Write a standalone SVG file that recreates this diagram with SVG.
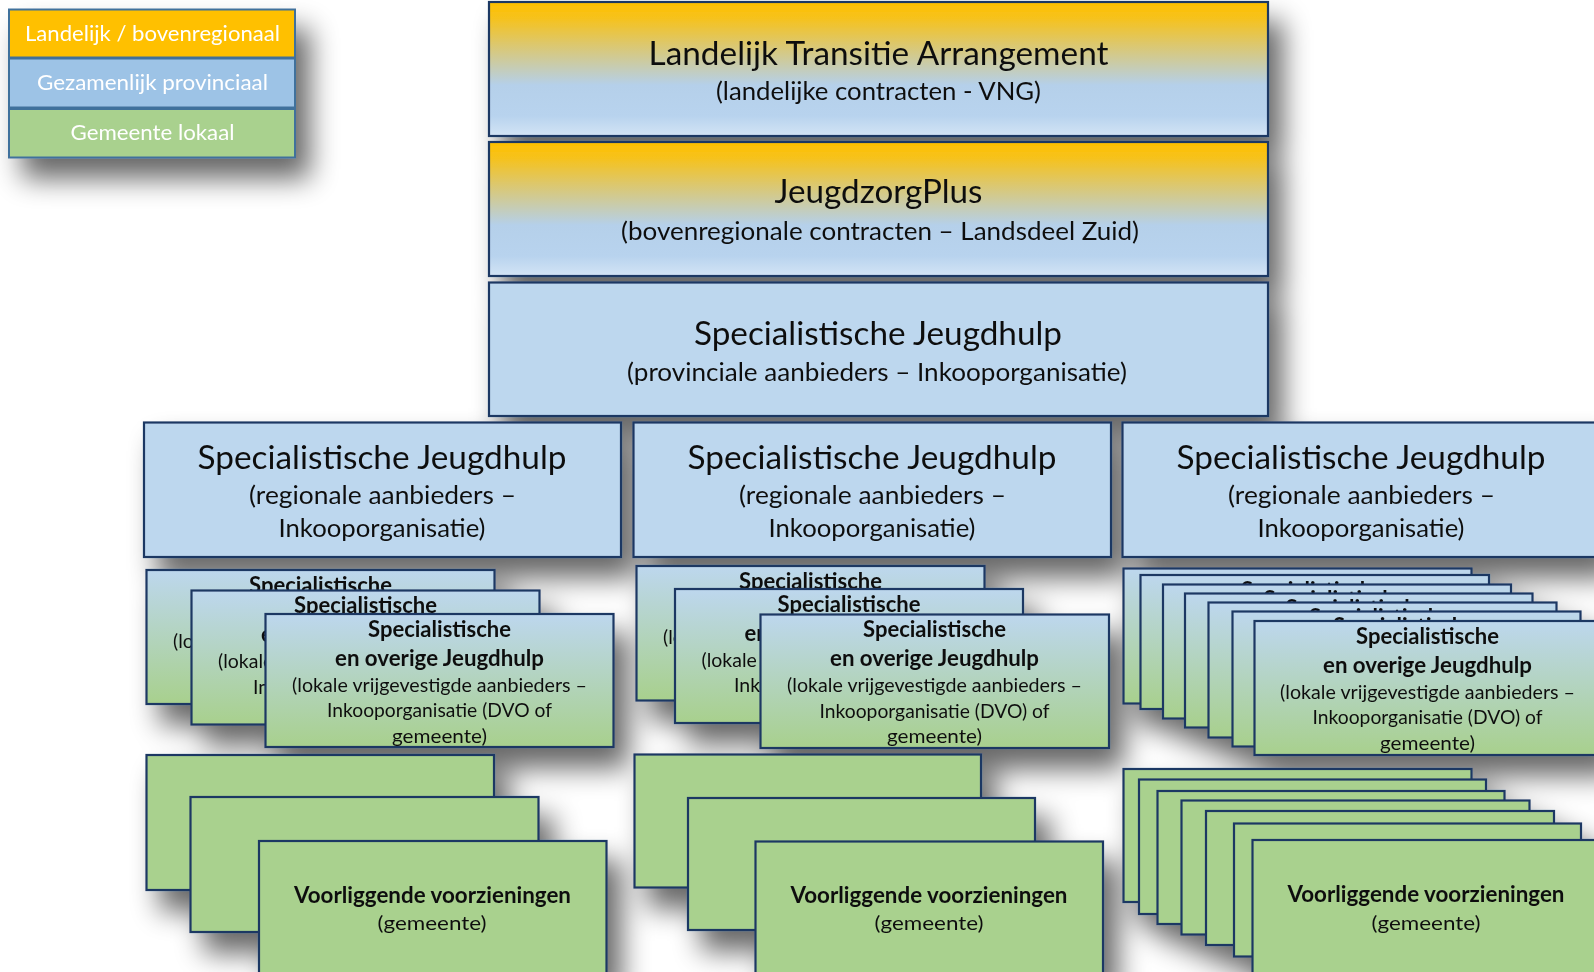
<svg xmlns="http://www.w3.org/2000/svg" width="1594" height="972" viewBox="0 0 1594 972">
<defs>
<filter id="sh" x="-10%" y="-10%" width="130%" height="135%">
<feGaussianBlur in="SourceAlpha" stdDeviation="14"/>
<feOffset dx="14" dy="20" result="o"/>
<feComponentTransfer><feFuncA type="linear" slope="0.6"/></feComponentTransfer>
<feMerge><feMergeNode/><feMergeNode in="SourceGraphic"/></feMerge>
</filter>
<linearGradient id="gTop" x1="0" y1="0" x2="0" y2="1">
<stop offset="0" stop-color="#FFC000"/>
<stop offset="0.12" stop-color="#F6C21C"/>
<stop offset="0.62" stop-color="#B5D0EA"/>
<stop offset="0.85" stop-color="#B8D3EE"/>
<stop offset="1" stop-color="#D3E4F5"/>
</linearGradient>
<linearGradient id="gLoc" x1="0" y1="0" x2="0" y2="1">
<stop offset="0" stop-color="#BDD7EE"/>
<stop offset="1" stop-color="#A8D08D"/>
</linearGradient>
<style>
.lg{stroke:#41719C;stroke-width:2}
.nb{stroke:#1F3864;stroke-width:2.2}
.top{fill:url(#gTop)}
.blue{fill:#BDD7EE}
.loc{fill:url(#gLoc)}
.grn{fill:#A9D18E}
text{font-family:Lato,"Liberation Sans",sans-serif;text-anchor:middle;fill:#111}
.lt{fill:#fff;font-size:22px}
.h1{font-size:33px}
.h2{font-size:25.5px}
.b{font-size:22px;font-weight:bold}
.r{font-size:19.5px}
.s{text-anchor:start}
</style>
</defs>
<g filter="url(#sh)">
<g id="legend">
<rect class="lg" x="9" y="9.5" width="286" height="48" fill="#FFC000"/>
<rect class="lg" x="9" y="58.5" width="286" height="49" fill="#9DC3E6"/>
<rect class="lg" x="9" y="109" width="286" height="48.5" fill="#A9D18E"/>
<text class="lt" x="152.5" y="41" textLength="255" lengthAdjust="spacingAndGlyphs">Landelijk / bovenregionaal</text>
<text class="lt" x="152.5" y="90" textLength="231" lengthAdjust="spacingAndGlyphs">Gezamenlijk provinciaal</text>
<text class="lt" x="152.5" y="140" textLength="164" lengthAdjust="spacingAndGlyphs">Gemeente lokaal</text>
</g>
<g id="lta">
<rect class="nb top" x="489" y="2" width="779" height="134"/>
<text class="h1" x="878.5" y="65" textLength="460" lengthAdjust="spacingAndGlyphs">Landelijk Transitie Arrangement</text>
<text class="h2" x="878.5" y="100" textLength="325" lengthAdjust="spacingAndGlyphs">(landelijke contracten - VNG)</text>
</g>
<g id="jeugdzorgplus">
<rect class="nb top" x="489" y="142" width="779" height="134"/>
<text class="h1" x="878.5" y="203" textLength="208" lengthAdjust="spacingAndGlyphs">JeugdzorgPlus</text>
<text class="h2" x="880" y="240" textLength="518" lengthAdjust="spacingAndGlyphs">(bovenregionale contracten – Landsdeel  Zuid)</text>
</g>
<g id="provinciaal">
<rect class="nb blue" x="489" y="282.5" width="779" height="133.5"/>
<text class="h1" x="878" y="345" textLength="368" lengthAdjust="spacingAndGlyphs">Specialistische Jeugdhulp</text>
<text class="h2" x="877" y="381" textLength="500" lengthAdjust="spacingAndGlyphs">(provinciale aanbieders – Inkooporganisatie)</text>
</g>
<g id="regio1">
<rect class="nb blue" x="144" y="422.5" width="477" height="134.5"/>
<text class="h1" x="382" y="468.5" textLength="369" lengthAdjust="spacingAndGlyphs">Specialistische Jeugdhulp</text>
<text class="h2" x="382.5" y="503.5" textLength="267" lengthAdjust="spacingAndGlyphs">(regionale aanbieders –</text>
<text class="h2" x="382" y="537" textLength="207" lengthAdjust="spacingAndGlyphs">Inkooporganisatie)</text>
</g>
<g id="regio2">
<rect class="nb blue" x="633.5" y="422.5" width="477.5" height="134.5"/>
<text class="h1" x="872" y="468.5" textLength="369" lengthAdjust="spacingAndGlyphs">Specialistische Jeugdhulp</text>
<text class="h2" x="872.5" y="503.5" textLength="267" lengthAdjust="spacingAndGlyphs">(regionale aanbieders –</text>
<text class="h2" x="872" y="537" textLength="207" lengthAdjust="spacingAndGlyphs">Inkooporganisatie)</text>
</g>
<g id="regio3">
<rect class="nb blue" x="1122.5" y="422.5" width="477.5" height="134.5"/>
<text class="h1" x="1361" y="468.5" textLength="369" lengthAdjust="spacingAndGlyphs">Specialistische Jeugdhulp</text>
<text class="h2" x="1361.5" y="503.5" textLength="267" lengthAdjust="spacingAndGlyphs">(regionale aanbieders –</text>
<text class="h2" x="1361" y="537" textLength="207" lengthAdjust="spacingAndGlyphs">Inkooporganisatie)</text>
</g>

<g id="lokaal-a1" transform="translate(146.5,570)">
<rect class="nb loc" width="348" height="134"/>
<text class="b" x="174" y="22.5" textLength="143" lengthAdjust="spacingAndGlyphs">Specialistische</text>
<text class="r s" x="26.5" y="77.5">(lo</text>
</g>
<g id="lokaal-a2" transform="translate(191.5,590.5)">
<rect class="nb loc" width="348" height="134"/>
<text class="b" x="174" y="22.5" textLength="143" lengthAdjust="spacingAndGlyphs">Specialistische</text>
<text class="b s" x="69.5" y="51.5">en</text>
<text class="r s" x="26.5" y="77.5">(lokale</text>
<text class="r s" x="61.5" y="103">Ink</text>
</g>
<g id="lokaal-a3" transform="translate(265.5,614)">
<rect class="nb loc" width="348" height="133"/>
<text class="b" x="174" y="22.5" textLength="143" lengthAdjust="spacingAndGlyphs">Specialistische</text>
<text class="b" x="174" y="51.5" textLength="209" lengthAdjust="spacingAndGlyphs">en overige Jeugdhulp</text>
<text class="r" x="174" y="77.5" textLength="295" lengthAdjust="spacingAndGlyphs">(lokale vrijgevestigde aanbieders –</text>
<text class="r" x="174" y="103" textLength="225" lengthAdjust="spacingAndGlyphs">Inkooporganisatie (DVO of</text>
<text class="r" x="174" y="128.5" textLength="95" lengthAdjust="spacingAndGlyphs">gemeente)</text>
</g>

<g id="lokaal-c1" transform="translate(636.5,566)">
<rect class="nb loc" width="348" height="134.5"/>
<text class="b" x="174" y="22.5" textLength="143" lengthAdjust="spacingAndGlyphs">Specialistische</text>
<text class="r s" x="26.5" y="77.5">(lo</text>
</g>
<g id="lokaal-c2" transform="translate(675,589)">
<rect class="nb loc" width="348" height="134"/>
<text class="b" x="174" y="22.5" textLength="143" lengthAdjust="spacingAndGlyphs">Specialistische</text>
<text class="b s" x="69.5" y="51.5">en</text>
<text class="r s" x="26.5" y="77.5">(lokale</text>
<text class="r s" x="59" y="103">Ink</text>
</g>
<g id="lokaal-c3" transform="translate(760.5,614.5)">
<rect class="nb loc" width="348.5" height="133.5"/>
<text class="b" x="174" y="22.5" textLength="143" lengthAdjust="spacingAndGlyphs">Specialistische</text>
<text class="b" x="174" y="51.5" textLength="209" lengthAdjust="spacingAndGlyphs">en overige Jeugdhulp</text>
<text class="r" x="174" y="77.5" textLength="295" lengthAdjust="spacingAndGlyphs">(lokale vrijgevestigde aanbieders –</text>
<text class="r" x="174" y="103" textLength="230" lengthAdjust="spacingAndGlyphs">Inkooporganisatie (DVO) of</text>
<text class="r" x="174" y="128.5" textLength="95" lengthAdjust="spacingAndGlyphs">gemeente)</text>
</g>

<g id="lokaal-d1" transform="translate(1123.5,568.5)">
<rect class="nb loc" width="348" height="135"/>
<text class="b" x="172" y="22.5" textLength="143" lengthAdjust="spacingAndGlyphs">Specialistische</text>
</g>
<g id="lokaal-d2" transform="translate(1140.5,575)">
<rect class="nb loc" width="348.5" height="134"/>
<text class="b" x="172" y="22.5" textLength="143" lengthAdjust="spacingAndGlyphs">Specialistische</text>
</g>
<g id="lokaal-d3" transform="translate(1163,584.5)">
<rect class="nb loc" width="348" height="134"/>
<text class="b" x="172" y="22.5" textLength="143" lengthAdjust="spacingAndGlyphs">Specialistische</text>
</g>
<g id="lokaal-d4" transform="translate(1185,593.5)">
<rect class="nb loc" width="347.5" height="134"/>
<text class="b" x="172" y="22.5" textLength="143" lengthAdjust="spacingAndGlyphs">Specialistische</text>
</g>
<g id="lokaal-d5" transform="translate(1208.5,602.5)">
<rect class="nb loc" width="348" height="135"/>
<text class="b" x="172" y="22.5" textLength="143" lengthAdjust="spacingAndGlyphs">Specialistische</text>
</g>
<g id="lokaal-d6" transform="translate(1232.5,611.5)">
<rect class="nb loc" width="348" height="135"/>
<text class="b" x="172" y="22.5" textLength="143" lengthAdjust="spacingAndGlyphs">Specialistische</text>
</g>
<g id="lokaal-d7" transform="translate(1254.5,621)">
<rect class="nb loc" width="348" height="134"/>
<text class="b" x="173" y="22.5" textLength="143" lengthAdjust="spacingAndGlyphs">Specialistische</text>
<text class="b" x="173" y="51.5" textLength="209" lengthAdjust="spacingAndGlyphs">en overige Jeugdhulp</text>
<text class="r" x="173" y="77.5" textLength="295" lengthAdjust="spacingAndGlyphs">(lokale vrijgevestigde aanbieders –</text>
<text class="r" x="173" y="103" textLength="230" lengthAdjust="spacingAndGlyphs">Inkooporganisatie (DVO) of</text>
<text class="r" x="173" y="128.5" textLength="95" lengthAdjust="spacingAndGlyphs">gemeente)</text>
</g>

<g id="voorl-a1"><rect class="nb grn" x="146.5" y="755" width="347.5" height="135"/></g>
<g id="voorl-a2"><rect class="nb grn" x="190.5" y="797" width="348" height="135"/></g>
<g id="voorl-a3">
<rect class="nb grn" x="259" y="841" width="347.5" height="135"/>
<text class="b" x="432.5" y="902.5" textLength="277" lengthAdjust="spacingAndGlyphs">Voorliggende voorzieningen</text>
<text class="r" x="432" y="929.5" textLength="109" lengthAdjust="spacingAndGlyphs">(gemeente)</text>
</g>

<g id="voorl-c1"><rect class="nb grn" x="634.5" y="754.5" width="346.5" height="133"/></g>
<g id="voorl-c2"><rect class="nb grn" x="688" y="798" width="347" height="132"/></g>
<g id="voorl-c3">
<rect class="nb grn" x="755.5" y="841.5" width="347.5" height="135"/>
<text class="b" x="929" y="902.5" textLength="277" lengthAdjust="spacingAndGlyphs">Voorliggende voorzieningen</text>
<text class="r" x="929" y="929.5" textLength="109" lengthAdjust="spacingAndGlyphs">(gemeente)</text>
</g>

<g id="voorl-e1"><rect class="nb grn" x="1123.5" y="769" width="348" height="133"/></g>
<g id="voorl-e2"><rect class="nb grn" x="1139" y="779.5" width="347" height="134.5"/></g>
<g id="voorl-e3"><rect class="nb grn" x="1157.5" y="791" width="347" height="133"/></g>
<g id="voorl-e4"><rect class="nb grn" x="1181.5" y="800.5" width="348" height="134"/></g>
<g id="voorl-e5"><rect class="nb grn" x="1206" y="811" width="348" height="134"/></g>
<g id="voorl-e6"><rect class="nb grn" x="1234" y="823.5" width="347" height="133"/></g>
<g id="voorl-e7">
<rect class="nb grn" x="1252.5" y="840" width="348" height="135"/>
<text class="b" x="1426" y="901.5" textLength="277" lengthAdjust="spacingAndGlyphs">Voorliggende voorzieningen</text>
<text class="r" x="1426" y="929.5" textLength="109" lengthAdjust="spacingAndGlyphs">(gemeente)</text>
</g>
</g>
<g id="connectors"/>
</svg>
